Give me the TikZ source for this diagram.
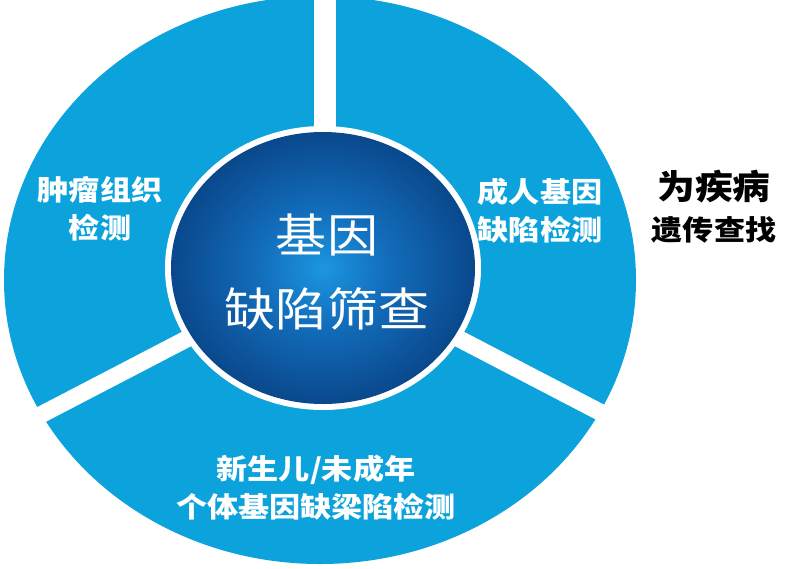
\documentclass[tikz,border=0pt]{standalone}
\usepackage{fontspec}
\usetikzlibrary{calc}
\newfontfamily\cjk[FakeStretch=1.11]{Noto Sans CJK SC}
\definecolor{outerblue}{RGB}{12,163,220}
\definecolor{discA}{RGB}{28,150,224}
\definecolor{discB}{RGB}{18,108,186}
\definecolor{discC}{RGB}{10,72,140}
\pgfdeclareradialshading{discshade}{\pgfpoint{0bp}{0bp}}{color(0bp)=(discA); color(11bp)=(discB); color(25bp)=(discC); color(50bp)=(discC)}
\tikzset{
  seclabel/.style={text=white, font=\cjk\bfseries\fontsize{28}{38}\selectfont, align=center, inner sep=0pt},
  centerlabel/.style={text=white, font=\cjk\fontsize{46}{74}\selectfont, align=center, inner sep=0pt},
  sidelabel/.style={text=black, font=\cjk\bfseries, inner sep=0pt},
  gap/.style={white, line cap=butt}
}
\begin{document}
\begin{tikzpicture}[x=1pt,y=-1pt]
\useasboundingbox (0,0) rectangle (800,568);
\fill[white] (0,0) rectangle (800,568);
% outer disc
\fill[outerblue] (320,280) ellipse [x radius=316, y radius=284];
% centre point and gap ends
\coordinate (c) at (323,268);
\coordinate (ctop) at (325,268);
\coordinate (gt) at (325,-20);
\coordinate (gl) at ($(c)+(-0.961*420,0.5*420)$);
\coordinate (gr) at ($(c)+(0.961*420,0.5*420)$);
\draw[gap, line width=22pt] (ctop) -- (gt);
\draw[gap, line width=17pt] (c) -- (gl);
\draw[gap, line width=17pt] (c) -- (gr);
% inner disc with white ring
\fill[white] (c) ellipse [x radius=158, y radius=142];
\shade[shading=discshade] (c) ellipse [x radius=152, y radius=136];
% labels
\node[centerlabel] (core) at (327,272) {基因\\缺陷筛查};
\node[seclabel] (tumor) at (100,209) {肿瘤组织\\检测};
\node[seclabel] (adult) at (540,211) {成人基因\\缺陷检测};
\node[seclabel] (child) at (316,488) {新生儿/未成年\\个体基因缺梁陷检测};
\node[sidelabel, font=\cjk\bfseries\fontsize{34}{40}\selectfont] (side1) at (714,187) {为疾病};
\node[sidelabel, font=\cjk\bfseries\fontsize{28}{34}\selectfont] (side2) at (714,230) {遗传查找};
\end{tikzpicture}
\end{document}
